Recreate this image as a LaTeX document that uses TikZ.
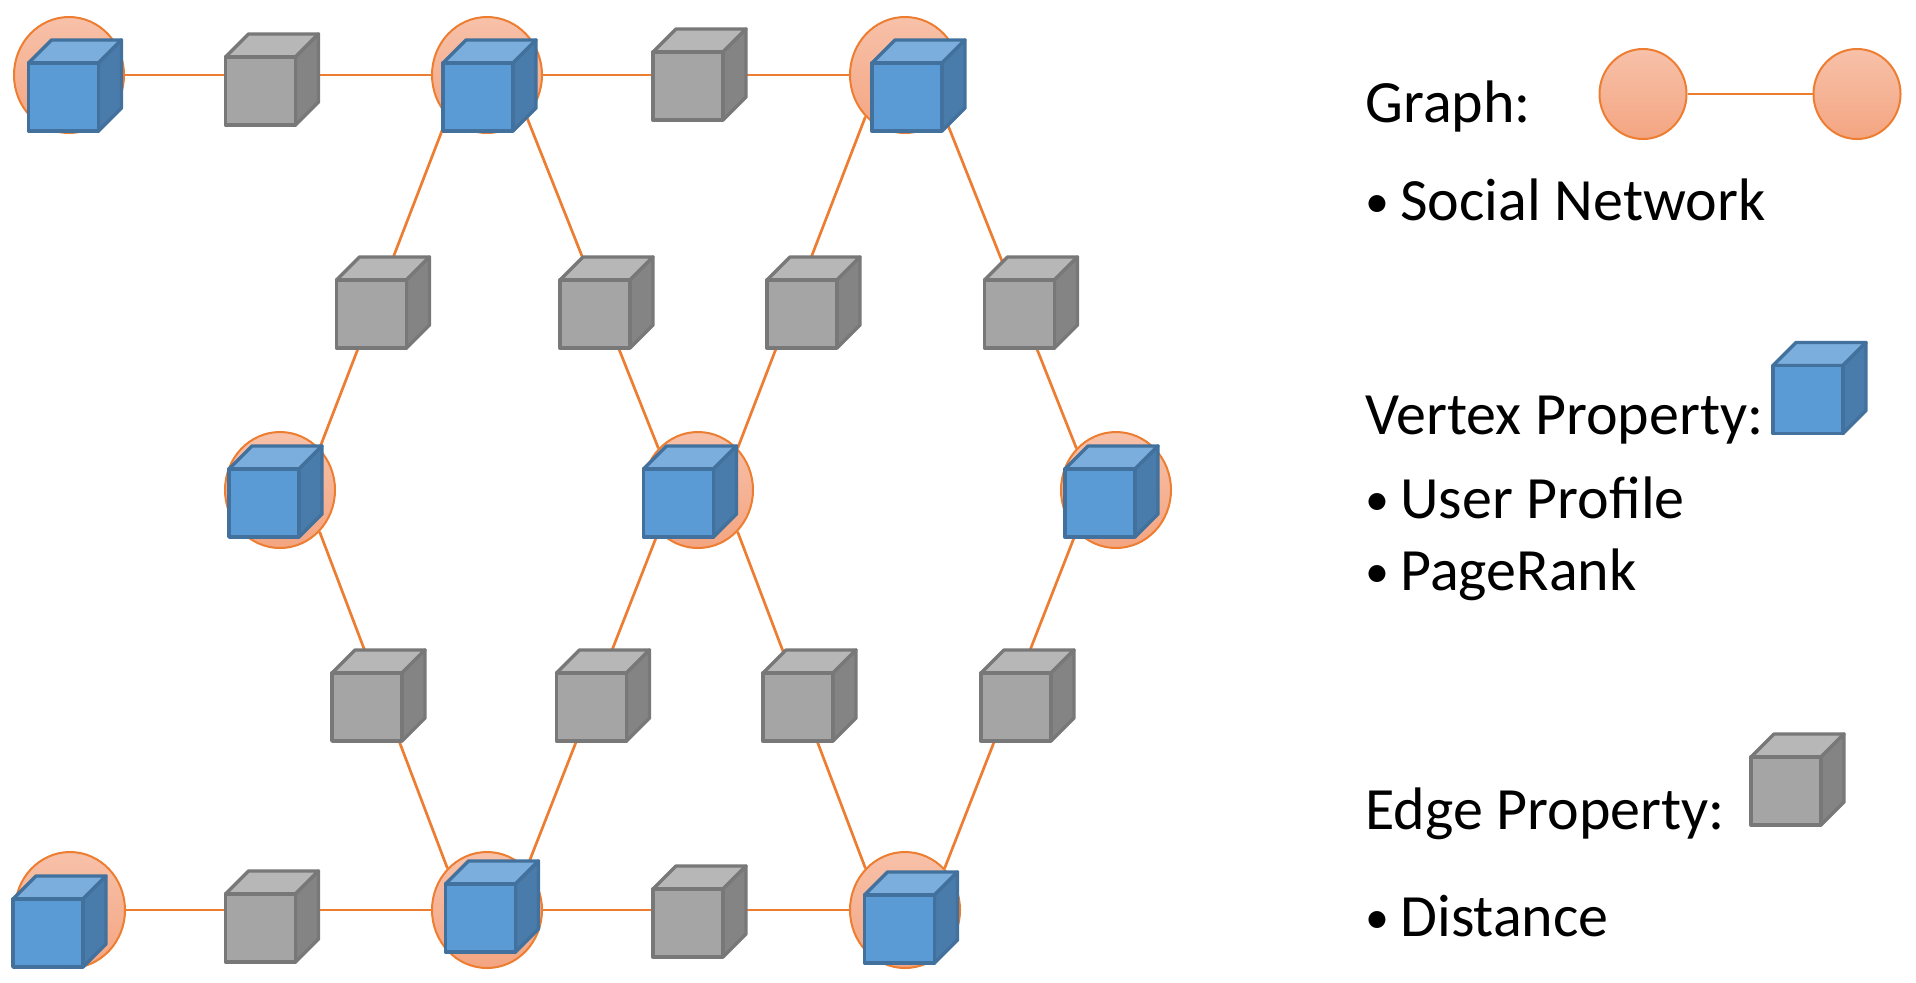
\documentclass[tikz,border=0pt]{standalone}
\usepackage{fontspec}
\setmainfont{Carlito}
\usetikzlibrary{shapes.geometric}
\definecolor{edgeorange}{HTML}{ED7D31}
\definecolor{circletop}{HTML}{F7C1A9}
\definecolor{circlebot}{HTML}{F4A581}
\definecolor{bluefront}{HTML}{5B9BD5}
\definecolor{blueline}{HTML}{41719C}
\definecolor{bluetop}{HTML}{7CAEDD}
\definecolor{blueside}{HTML}{4A7CAB}
\definecolor{grayfront}{HTML}{A5A5A5}
\definecolor{grayline}{HTML}{787878}
\definecolor{graytop}{HTML}{B7B7B7}
\definecolor{grayside}{HTML}{848484}
\newcommand{\bulletitem}[1]{\makebox[17.5pt][l]{\raisebox{1.5pt}{\scalebox{0.8}{•}}}#1}
\begin{document}
\begin{tikzpicture}[x=0.5pt, y=-0.5pt,
    vertexcircle/.style={draw=edgeorange, line width=1pt, ellipse, inner sep=0pt,
        top color=circletop, bottom color=circlebot,
        minimum width=55pt, minimum height=58pt},
    legendcircle/.style={vertexcircle, minimum width=43.5pt, minimum height=45pt},
    graphedge/.style={draw=edgeorange, line width=1.35pt},
    cubebox/.style n args={4}{draw=#1, fill=#2, line width=1.7pt, line join=round,
        inner sep=0pt, outer sep=0pt, minimum width=35pt, minimum height=34pt,
        append after command={\pgfextra{
            \draw[draw=#1, fill=#3, line width=1.7pt, line join=round]
                (\tikzlastnode.north west) -- ++(23,-23) -- ++(70,0)
                -- (\tikzlastnode.north east) -- cycle;
            \draw[draw=#1, fill=#4, line width=1.7pt, line join=round]
                (\tikzlastnode.north east) -- ++(23,-23) -- ++(0,68)
                -- (\tikzlastnode.south east) -- cycle;
        }}},
    vertexcube/.style={cubebox={blueline}{bluefront}{bluetop}{blueside}},
    edgecube/.style={cubebox={grayline}{grayfront}{graytop}{grayside}},
    legendtext/.style={anchor=base west, inner sep=0pt, font=\fontsize{30pt}{34pt}\selectfont}]

\useasboundingbox (0,0) rectangle (1916,982);

% vertices
\node[vertexcircle] (v1) at (69,75) {};
\node[vertexcircle] (v2) at (487,75) {};
\node[vertexcircle] (v3) at (905,75) {};
\node[vertexcircle] (v4) at (280,490) {};
\node[vertexcircle] (v5) at (698,490) {};
\node[vertexcircle] (v6) at (1116,490) {};
\node[vertexcircle] (v7) at (70,910) {};
\node[vertexcircle] (v8) at (487,910) {};
\node[vertexcircle] (v9) at (905,910) {};

% edges
\draw[graphedge] (v1.east) -- (v2.west);
\draw[graphedge] (v2.east) -- (v3.west);
\draw[graphedge] (v2.south west) -- (v4.north east);
\draw[graphedge] (v2.south east) -- (v5.north west);
\draw[graphedge] (v3.south west) -- (v5.north east);
\draw[graphedge] (v3.south east) -- (v6.north west);
\draw[graphedge] (v4.south east) -- (v8.north west);
\draw[graphedge] (v5.south west) -- (v8.north east);
\draw[graphedge] (v5.south east) -- (v9.north west);
\draw[graphedge] (v6.south west) -- (v9.north east);
\draw[graphedge] (v7.east) -- (v8.west);
\draw[graphedge] (v8.east) -- (v9.west);

% vertex properties
\node[vertexcube] (p1) at (63.5,97) {};
\node[vertexcube] (p2) at (478,97) {};
\node[vertexcube] (p3) at (907,97) {};
\node[vertexcube] (p4) at (264,503) {};
\node[vertexcube] (p5) at (678.5,503) {};
\node[vertexcube] (p6) at (1100,503) {};
\node[vertexcube] (p7) at (48,933) {};
\node[vertexcube] (p8) at (480.5,918) {};
\node[vertexcube] (p9) at (899.5,929) {};

% edge properties
\node[edgecube] (e1) at (260.5,91) {};
\node[edgecube] (e2) at (688,86) {};
\node[edgecube] (e3) at (371.5,314) {};
\node[edgecube] (e4) at (595,314) {};
\node[edgecube] (e5) at (802,314) {};
\node[edgecube] (e6) at (1019.5,314) {};
\node[edgecube] (e7) at (367,707) {};
\node[edgecube] (e8) at (591.5,707) {};
\node[edgecube] (e9) at (798,707) {};
\node[edgecube] (e10) at (1016,707) {};
\node[edgecube] (e11) at (260.5,928) {};
\node[edgecube] (e12) at (688,923) {};

% legend
\node[legendtext] (graphlabel) at (1365,122) {Graph:};
\node[legendcircle] (g1) at (1643,94) {};
\node[legendcircle] (g2) at (1857,94) {};
\draw[graphedge] (g1.east) -- (g2.west);
\node[legendtext] (social) at (1365,220) {\bulletitem{Social Network}};
\node[legendtext] (vertexlabel) at (1365,434) {Vertex Property:};
\node[vertexcube] (vertexkey) at (1808,399.5) {};
\node[legendtext] (profile) at (1365,518) {\bulletitem{User Profile}};
\node[legendtext] (rank) at (1365,590) {\bulletitem{PageRank}};
\node[legendtext] (edgelabel) at (1365,829) {Edge Property:};
\node[edgecube] (edgekey) at (1786,791) {};
\node[legendtext] (distance) at (1365,936) {\bulletitem{Distance}};

\end{tikzpicture}
\end{document}
